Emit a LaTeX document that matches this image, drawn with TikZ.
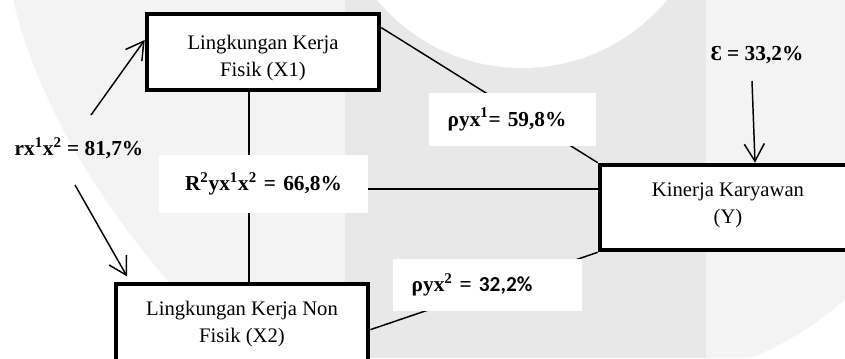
\documentclass[tikz,border=0pt]{standalone}
\usepackage{fontspec}
\setmainfont{Liberation Serif}
\newfontfamily\calfont{Carlito}
\usetikzlibrary{arrows.meta}
\definecolor{wmlight}{HTML}{F3F3F3}
\definecolor{wmdark}{HTML}{E8E8E8}
\pgfdeclarelayer{wm}
\pgfdeclarelayer{lines}
\pgfsetlayers{wm,lines,main}

\begin{document}
\begin{tikzpicture}[x=0.75pt, y=-0.75pt,
	varbox/.style={draw, line width=3.5pt, fill=white},
	vartext/.style={align=center, font=\fontsize{15.5}{20.25}\selectfont},
	lbl/.style={font=\fontsize{16}{19}\selectfont\bfseries},
	coef/.style={lbl, fill=white, inner xsep=14pt, align=left},
	conn/.style={line width=1.1pt},
	arr/.style={conn, -{Straight Barb[length=13pt,width=15pt]}}]
	\useasboundingbox (0,0) rectangle (845,358);
	
	% watermark behind everything
	\begin{pgfonlayer}{wm}
		\fill[white] (0,0) rectangle (845,358);
		\fill[wmlight] (13,0) .. controls (45,130) and (130,250) .. (240,358) -- (345,358) -- (345,0) -- cycle;
		\fill[wmdark] (345,0) rectangle (706,358);
		\fill[white] (522,-120.6) circle [radius=188.6];
		\fill[wmlight] (706,0) rectangle (845,358);
		\fill[white] (845,300) .. controls (815,325) and (785,345) .. (750,358) -- (845,358) -- cycle;
	\end{pgfonlayer}
	
	% variables
	\node[varbox, minimum width=174pt, minimum height=57pt] (x1) at (263,52) {};
	\node[vartext] (x1t) at (263,58.5) {Lingkungan Kerja\\Fisik (X1)};
	\node[varbox, minimum width=189pt, minimum height=60pt] (x2) at (242,324) {};
	\node[vartext] (x2t) at (242,324) {Lingkungan Kerja Non\\Fisik (X2)};
	\node[varbox, minimum width=192pt, minimum height=63.75pt] (y) at (728,207.5) {};
	\node[vartext] (yt) at (728,205) {Kinerja Karyawan\\(Y)};
	
	% coefficients
	\node[coef, align=center, inner xsep=3pt, text width=150.75pt, minimum height=43.5pt] (r2) at (263.5,184) {R\textsuperscript{2}yx\textsuperscript{1}x\textsuperscript{2} = 66,8\%};
	\node[coef, text width=97.25pt, minimum height=39.75pt] (p1) at (512.5,119.5) {ρyx\textsuperscript{1}= 59,8\%};
	\node[coef, text width=113.75pt, minimum height=39pt] (p2) at (487.5,285) {ρyx\textsuperscript{2} = {\calfont 32,2\%}};
	\node[lbl] (rx) at (79,148) {rx\textsuperscript{1}x\textsuperscript{2} = 81,7\%};
	\node[lbl] (eps) at (757,55) {Ɛ = 33,2\%};
	
	\begin{pgfonlayer}{lines}
		\draw[conn] ([xshift=-10.5pt]x1.south) -- ([xshift=-10.5pt]x1.south |- x2.north);
		\draw[conn] ([yshift=-3.75pt]r2.east) -- ([yshift=-3.75pt]r2.east -| y.west);
		\draw[conn] ([yshift=-12pt]x1.north east) -- (y.north west);
		\draw[conn] ([yshift=-36pt]x2.north east) -- (y.south west);
	\end{pgfonlayer}
	
	\coordinate (rxa) at (91,115);
	\coordinate (rxb) at (75,185);
	\coordinate (epsa) at (752,81);
	\draw[arr] (rxa) -- ([yshift=9pt]x1.west);
	\draw[arr] (rxb) -- ([xshift=10pt,yshift=4pt]x2.north west);
	\draw[arr] (epsa) -- ([xshift=20.25pt]y.north);
\end{tikzpicture}
\end{document}
